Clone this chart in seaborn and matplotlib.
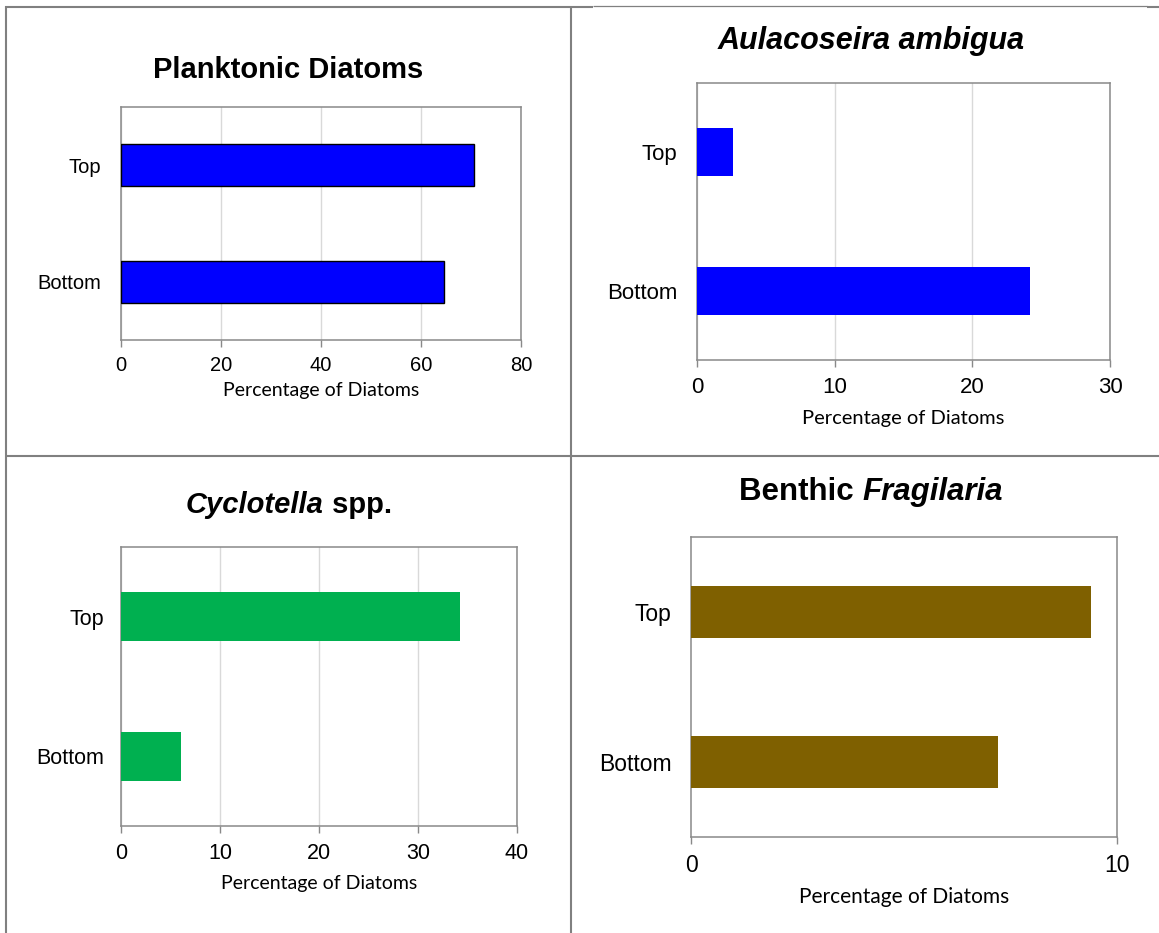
import matplotlib
matplotlib.use("Agg")
import matplotlib.pyplot as plt
import seaborn as sns
import pandas as pd
from matplotlib.lines import Line2D
from matplotlib.offsetbox import TextArea, HPacker, AnnotationBbox

# ---------------- data ----------------
categories = ["Top", "Bottom"]
planktonic = [70.6, 64.6]
aulacoseira = [2.6, 24.2]
cyclotella = [34.2, 6.1]
fragilaria = [9.4, 7.2]

ticks_planktonic = [0, 20, 40, 60, 80]
ticks_aulacoseira = [0, 10, 20, 30]
ticks_cyclotella = [0, 10, 20, 30, 40]
ticks_fragilaria = [0, 10]

xlabel_text = "Percentage of Diatoms"

# ---------------- figure ----------------
W, H = 1159, 933
sns.set_style("white")
plt.rcParams["font.family"] = ["Liberation Sans", "DejaVu Sans"]
fig = plt.figure(figsize=(W / 100, H / 100), dpi=100)
fig.patch.set_facecolor("white")

SPINE = "#898989"
GRID = "#d9d9d9"
BORDER = "#808080"


def px_axes(x0, y0, x1, y1):
    return fig.add_axes([x0 / W, 1 - y1 / H, (x1 - x0) / W, (y1 - y0) / H])


def fpt(x, y):
    return (x / W, 1 - y / H)


panels = [
    dict(box=(121, 107, 521, 340), vals=planktonic, ticks=ticks_planktonic,
         color="#0000ff", edge="black", lw=1.0, width=0.36, grid=True,
         tick_fs=14.5, xl_fs=14, xpad=6.5, lpad=5, ypad=14,
         title=[("Planktonic Diatoms", "normal")], tpos=(288, 70), tfs=21),
    dict(box=(697, 83, 1110, 360), vals=aulacoseira, ticks=ticks_aulacoseira,
         color="#0000ff", edge="none", lw=0, width=0.35, grid=True,
         tick_fs=16, xl_fs=14.5, xpad=7.5, lpad=8.5, ypad=14,
         title=[("Aulacoseira ambigua", "italic")], tpos=(871, 41), tfs=22),
    dict(box=(121, 547, 517, 826), vals=cyclotella, ticks=ticks_cyclotella,
         color="#00b050", edge="none", lw=0, width=0.35, grid=True,
         tick_fs=15.5, xl_fs=14, xpad=7.5, lpad=8, ypad=12.5,
         title=[("Cyclotella", "italic"), (" spp.", "normal")], tpos=(289, 505), tfs=21),
    dict(box=(691, 537, 1117, 837), vals=fragilaria, ticks=ticks_fragilaria,
         color="#7f6000", edge="none", lw=0, width=0.35, grid=False,
         tick_fs=16.5, xl_fs=15, xpad=7, lpad=7.5, ypad=14,
         title=[("Benthic ", "normal"), ("Fragilaria", "italic")], tpos=(871, 492), tfs=22.5),
]

for p in panels:
    ax = px_axes(*p["box"])
    df = pd.DataFrame({"position": categories, "value": p["vals"]})
    sns.barplot(data=df, x="value", y="position", order=categories, orient="h",
                color=p["color"], saturation=1, width=p["width"],
                edgecolor=p["edge"], linewidth=p["lw"], ax=ax, zorder=3)
    ax.set_xlim(p["ticks"][0], p["ticks"][-1])
    ax.set_ylim(1.5, -0.5)
    ax.set_xticks(p["ticks"])
    ax.set_xticklabels([str(t) for t in p["ticks"]])
    if p["grid"]:
        ax.xaxis.grid(True, color=GRID, linewidth=1.0, zorder=0)
    ax.set_axisbelow(True)
    for s in ax.spines.values():
        s.set_color(SPINE)
        s.set_linewidth(1.1)
        s.set_visible(True)
    ax.tick_params(axis="x", direction="out", length=5, width=1.0, color=SPINE,
                   labelsize=p["tick_fs"], pad=p["xpad"], bottom=True, labelcolor="black")
    ax.tick_params(axis="y", length=0, labelsize=p["tick_fs"], pad=p["ypad"], labelcolor="black")
    ax.set_ylabel("")
    ax.set_xlabel(xlabel_text, fontsize=p["xl_fs"], family=["Lato", "DejaVu Sans"],
                  labelpad=p["lpad"], color="black")

    parts = [TextArea(t, textprops=dict(fontsize=p["tfs"], fontweight="bold", fontstyle=st,
                                        family=["Liberation Sans", "DejaVu Sans"], color="black"))
             for t, st in p["title"]]
    pack = HPacker(children=parts, align="baseline", pad=0, sep=0)
    ab = AnnotationBbox(pack, fpt(*p["tpos"]), xycoords="figure fraction",
                        box_alignment=(0.5, 0.5), frameon=False, pad=0)
    fig.add_artist(ab)

# ---------------- table borders ----------------
def hline(x0, x1, y, lw):
    fig.add_artist(Line2D([x0 / W, x1 / W], [1 - y / H, 1 - y / H], color=BORDER,
                          linewidth=lw, transform=fig.transFigure, solid_capstyle="butt"))


def vline(x, y0, y1, lw):
    fig.add_artist(Line2D([x / W, x / W], [1 - y0 / H, 1 - y1 / H], color=BORDER,
                          linewidth=lw, transform=fig.transFigure, solid_capstyle="butt"))


hline(5, 593, 6.5, 1.5)
hline(593, 1147, 6.2, 0.9)
hline(1147, 1159, 6.5, 1.5)
hline(5, 1159, 456, 1.5)
vline(5.8, 5.5, 933, 1.5)
vline(571, 5.5, 933, 1.5)

fig.savefig("out.png", dpi=100, facecolor="white")
